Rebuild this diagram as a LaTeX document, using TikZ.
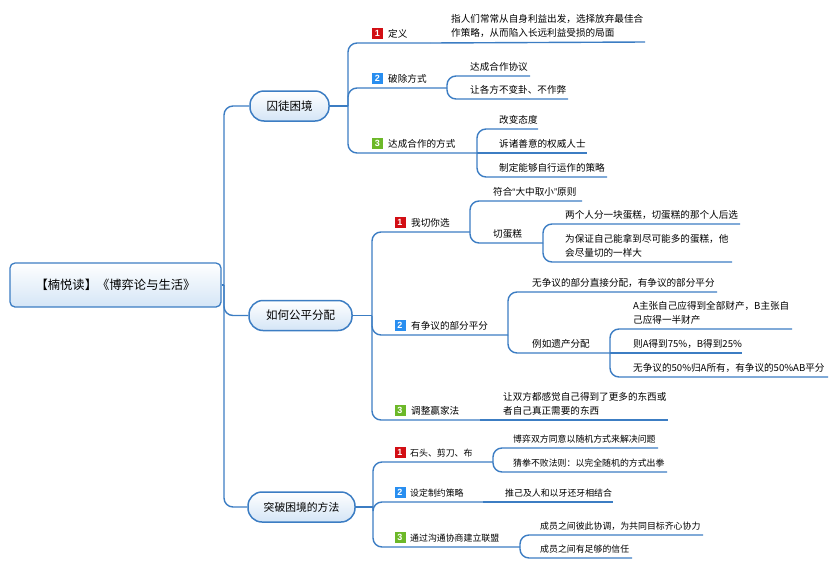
\documentclass[tikz,border=0pt]{standalone}
\usepackage{fontspec}
\setmainfont{Noto Sans CJK SC}
\newfontfamily\badgefont{Liberation Sans}
\newfontfamily\latinq{Liberation Sans}
\definecolor{lineblue}{RGB}{60,125,195}
\definecolor{fillblue}{RGB}{212,229,246}
\definecolor{bred}{RGB}{210,14,20}
\definecolor{bblue}{RGB}{40,142,240}
\definecolor{bgreen}{RGB}{108,184,40}
\begin{document}
\begin{tikzpicture}[x=1pt,y=-1pt,
  conn/.style={draw=lineblue, line width=1.4pt, rounded corners=9pt},
  mainnode/.style={draw=lineblue, line width=1.5pt, top color=white, bottom color=fillblue, rounded corners=14pt, inner sep=0pt, minimum height=30pt},
  rootnode/.style={draw=lineblue, line width=1.3pt, top color=white, bottom color=fillblue, rounded corners=5pt, inner sep=0pt, minimum width=211pt, minimum height=44pt, font=\fontsize{12.3}{14}\selectfont},
  txt/.style={anchor=south west, inner sep=0pt, text depth=0pt, align=left, font=\fontsize{9.6}{14}\selectfont},
  txts/.style={txt, font=\fontsize{8.9}{14}\selectfont},
  badge/.style={fill=#1, text=white, minimum size=11pt, inner sep=0pt, font=\badgefont\bfseries\fontsize{9}{9}\selectfont}
]
\useasboundingbox (0,0) rectangle (839,571);

% root and main nodes
\node[rootnode] (root) at (115.5,285) {【楠悦读】《博弈论与生活》};
\node[mainnode, minimum width=79pt, font=\fontsize{11.5}{12}\selectfont] (m1) at (289.5,106) {囚徒困境};
\node[mainnode, minimum width=103pt, font=\fontsize{11.5}{12}\selectfont] (m2) at (300.5,315.5) {如何公平分配};
\node[mainnode, minimum width=107pt, font=\fontsize{10.8}{12}\selectfont] (m3) at (301.5,507) {突破困境的方法};

\coordinate (T) at (224,285);
\draw[conn] (root.east) -- (T);
\draw[conn] (T) |- (m1.west);
\draw[conn] (T) |- (m2.west);
\draw[conn] (T) |- (m3.west);

% ---------- branch 1
\coordinate (B1) at (348,106);
\draw[conn] (m1.east) -- (B1);
\node[badge=bred] (b11) at (377.5,33.5) {1};
\node[txt] (t11) at (388,38) {定义};
\node[badge=bblue] (b12) at (377.5,78.5) {2};
\node[txt] (t12) at (388,83) {破除方式};
\node[badge=bgreen] (b13) at (377.5,143.5) {3};
\node[txt] (t13) at (388,148) {达成合作的方式};

\coordinate (p1) at (430,43);
\coordinate (p2) at (447,88);
\coordinate (p3) at (477,153);
\draw[conn] (B1) |- (p1);
\draw[conn] (B1) |- (p2);
\draw[conn] (B1) |- (p3);

\node[txt] (l11) at (451,37) {指人们常常从自身利益出发，选择放弃最佳合\\作策略，从而陷入长远利益受损的局面};
\coordinate (e11) at (645,42);
\draw[conn] (p1) -- (e11);

\node[txt] (l121) at (470,71) {达成合作协议};
\node[txt] (l122) at (470,94) {让各方不变卦、不作弊};
\coordinate (e121) at (530,76);
\coordinate (e122) at (568,99);
\draw[conn] (p2) |- (e121);
\draw[conn] (p2) |- (e122);

\node[txt] (l131) at (499,124) {改变态度};
\node[txt] (l132) at (499,148) {诉诸善意的权威人士};
\node[txt] (l133) at (499,172) {制定能够自行运作的策略};
\coordinate (e131) at (538,129);
\coordinate (e132) at (587,153);
\coordinate (e133) at (607,177);
\draw[conn] (p3) |- (e131);
\draw[conn] (p3) -- (e132);
\draw[conn] (p3) |- (e133);

% ---------- branch 2
\coordinate (B2) at (372,315.5);
\draw[conn] (m2.east) -- (B2);
\node[badge=bred] (b21) at (400,222.5) {1};
\node[txt] (t21) at (411,227) {我切你选};
\node[badge=bblue] (b22) at (400,325.5) {2};
\node[txt] (t22) at (411,330) {有争议的部分平分};
\node[badge=bgreen] (b23) at (400,410.5) {3};
\node[txt] (t23) at (411,415) {调整赢家法};

\coordinate (q1) at (470,232);
\coordinate (q2) at (508,335);
\coordinate (q3) at (480,420);
\draw[conn] (B2) |- (q1);
\draw[conn] (B2) |- (q2);
\draw[conn] (B2) |- (q3);

\node[txt] (l211) at (493,196) {符合{\latinq “}大中取小{\latinq ”}原则};
\node[txt] (l212) at (493,238) {切蛋糕};
\coordinate (e211) at (582,201);
\coordinate (q12) at (543,243);
\draw[conn] (q1) |- (e211);
\draw[conn] (q1) |- (q12);

\node[txt] (l2121) at (565,219) {两个人分一块蛋糕，切蛋糕的那个人后选};
\node[txt] (l2122) at (565,257) {为保证自己能拿到尽可能多的蛋糕，他\\会尽量切的一样大};
\coordinate (e2121) at (740,224);
\coordinate (e2122) at (732,262);
\draw[conn] (q12) |- (e2121);
\draw[conn] (q12) |- (e2122);

\node[txt] (l221) at (532,287) {无争议的部分直接分配，有争议的部分平分};
\node[txt] (l222) at (532,348) {例如遗产分配};
\coordinate (e221) at (717,292);
\coordinate (q22) at (610,353);
\draw[conn] (q2) |- (e221);
\draw[conn] (q2) |- (q22);

\node[txt] (l2221) at (633,324) {A主张自己应得到全部财产，B主张自\\己应得一半财产};
\node[txt] (l2222) at (633,348) {则A得到75\%，B得到25\%};
\node[txt] (l2223) at (633,372) {无争议的50\%归A所有，有争议的50\%AB平分};
\coordinate (e2221) at (792,329);
\coordinate (e2222) at (742,353);
\coordinate (e2223) at (828,377);
\draw[conn] (q22) |- (e2221);
\draw[conn] (q22) -- (e2222);
\draw[conn] (q22) |- (e2223);

\node[txt] (l231) at (503,415) {让双方都感觉自己得到了更多的东西或\\者自己真正需要的东西};
\coordinate (e231) at (668,420);
\draw[conn] (q3) -- (e231);

% ---------- branch 3
\coordinate (B3) at (373,507);
\draw[conn] (m3.east) -- (B3);
\node[badge=bred] (b31) at (400,452.5) {1};
\node[txts] (t31) at (410,457) {石头、剪刀、布};
\node[badge=bblue] (b32) at (400,492.5) {2};
\node[txts] (t32) at (410,497) {设定制约策略};
\node[badge=bgreen] (b33) at (400,537.5) {3};
\node[txts] (t33) at (410,542) {通过沟通协商建立联盟};

\coordinate (r1) at (493,462);
\coordinate (r2) at (483,502);
\coordinate (r3) at (520,547);
\draw[conn] (B3) |- (r1);
\draw[conn] (B3) |- (r2);
\draw[conn] (B3) |- (r3);

\node[txts] (l311) at (513,443) {博弈双方同意以随机方式来解决问题};
\node[txts] (l312) at (513,467) {猜拳不败法则：以完全随机的方式出拳};
\coordinate (e311) at (658,448);
\coordinate (e312) at (667,472);
\draw[conn] (r1) |- (e311);
\draw[conn] (r1) |- (e312);

\node[txts] (l321) at (505,497) {推己及人和以牙还牙相结合};
\coordinate (e321) at (613,502);
\draw[conn] (r2) -- (e321);

\node[txts] (l331) at (540,530) {成员之间彼此协调，为共同目标齐心协力};
\node[txts] (l332) at (540,553) {成员之间有足够的信任};
\coordinate (e331) at (703,535);
\coordinate (e332) at (632,558);
\draw[conn] (r3) |- (e331);
\draw[conn] (r3) |- (e332);
\end{tikzpicture}
\end{document}
